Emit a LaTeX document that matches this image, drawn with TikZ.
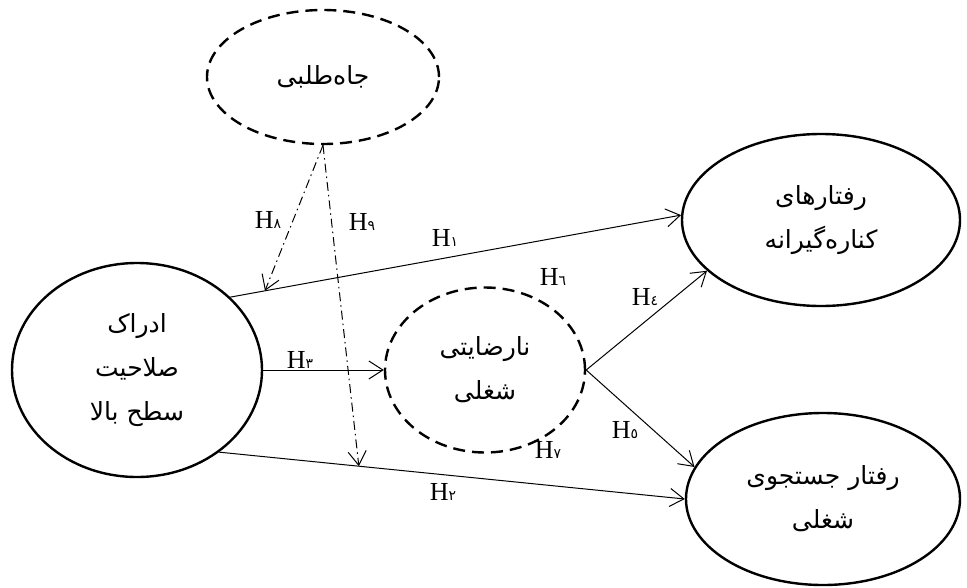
\documentclass[tikz,border=0pt]{standalone}
\usepackage{fontspec}
\setmainfont{Liberation Serif}
\newfontfamily\arabicfont[Script=Arabic]{DejaVu Sans}
\TeXXeTstate=1
\usetikzlibrary{shapes.geometric,arrows.meta}
\newcommand\Hlab[1]{H{\arabicfont\fontsize{14}{14}\selectfont #1}}
\begin{document}
\begin{tikzpicture}[x=1pt,y=-1pt,
  latent/.style={ellipse, draw, line width=2.4pt, inner sep=0pt, align=center,
    font=\arabicfont\fontsize{25}{44}\selectfont},
  dlatent/.style={latent, dash pattern=on 12pt off 7pt},
  hypo/.style={line width=1pt, -{Straight Barb[length=14pt,width=18pt]}},
  modpath/.style={hypo, dash pattern=on 9pt off 4pt on 1.5pt off 4pt},
  hlab/.style={font=\fontsize{26}{26}\selectfont, inner sep=0pt}
]
\useasboundingbox (0,0) rectangle (967,587);

\node[dlatent, minimum width=232pt, minimum height=134pt] (amb) at (323,77) {\beginR جاه‌طلبی\endR};
\node[latent, minimum width=250pt, minimum height=214pt] (left) at (137,370)
  {\beginR ادراک\endR\\ \beginR صلاحیت\endR\\ \beginR سطح بالا\endR};
\node[dlatent, minimum width=200pt, minimum height=165pt] (mid) at (485,370)
  {\beginR نارضایتی\endR\\ \beginR شغلی\endR};
\node[latent, minimum width=278pt, minimum height=172pt] (ur) at (821,220)
  {\beginR رفتارهای\endR\\ \beginR کناره‌گیرانه\endR};
\node[latent, minimum width=274pt, minimum height=172pt] (lr) at (823,499)
  {\beginR رفتار جستجوی\endR\\ \beginR شغلی\endR};

\draw[hypo] (left.38) -- coordinate[pos=0.077] (m1) (ur.178);
\draw[hypo] (left.-45) -- coordinate[pos=0.30] (m2) (lr.180);
\draw[hypo] (left.east) -- (mid.west);
\draw[hypo] (mid.east) -- (ur.204);
\draw[hypo] (mid.east) -- (lr.166);
\draw[modpath] (amb.south) -- (m1);
\draw[modpath] (amb.south) -- (m2);

\node[hlab] (h1) at (445,238) {\Hlab{١}};
\node[hlab] (h2) at (443,492) {\Hlab{٢}};
\node[hlab] (h3) at (300,360) {\Hlab{٣}};
\node[hlab] (h4) at (645,297) {\Hlab{٤}};
\node[hlab] (h5) at (625,430) {\Hlab{٥}};
\node[hlab] (h6) at (553,277) {\Hlab{٦}};
\node[hlab] (h7) at (548,450) {\Hlab{٧}};
\node[hlab] (h8) at (268,220) {\Hlab{٨}};
\node[hlab] (h9) at (362,222) {\Hlab{٩}};
\end{tikzpicture}
\end{document}
